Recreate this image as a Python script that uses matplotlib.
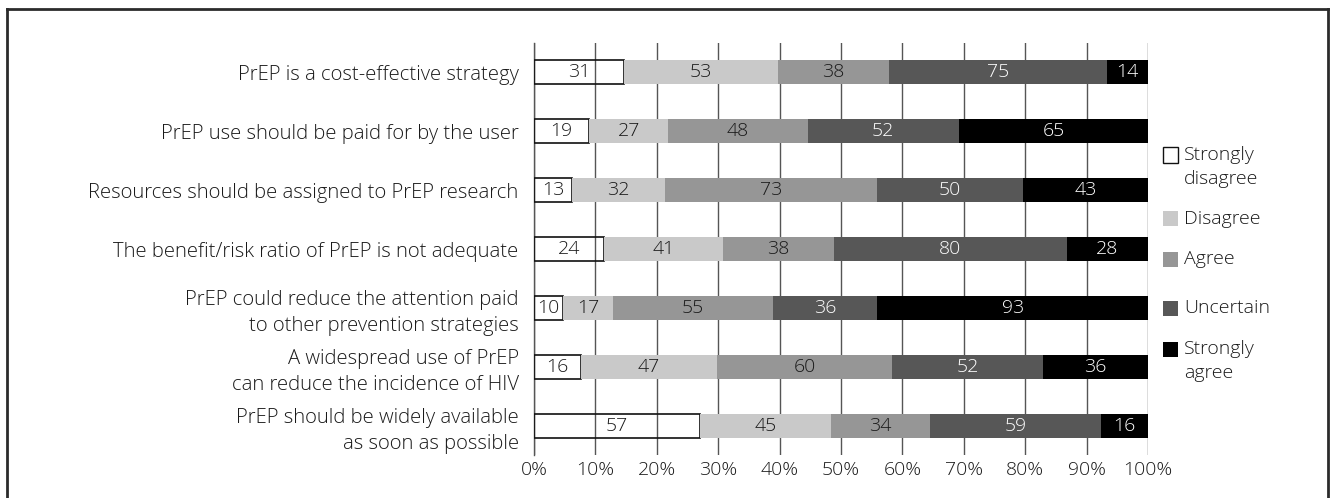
import matplotlib.pyplot as plt
import matplotlib.patches as patches
from matplotlib.lines import Line2D
import numpy as np

plt.rcParams['font.family'] = ['Open Sans', 'DejaVu Sans']
plt.rcParams['font.weight'] = 'light'

# Data
statements = [
    "PrEP is a cost-effective strategy",
    "PrEP use should be paid for by the user",
    "Resources should be assigned to PrEP research",
    "The benefit/risk ratio of PrEP is not adequate",
    "PrEP could reduce the attention paid\nto other prevention strategies",
    "A widespread use of PrEP\ncan reduce the incidence of HIV",
    "PrEP should be widely available\nas soon as possible",
]
series = ["Strongly\ndisagree", "Disagree", "Agree", "Uncertain", "Strongly\nagree"]
strongly_disagree = [31, 19, 13, 24, 10, 16, 57]
disagree = [53, 27, 32, 41, 17, 47, 45]
agree = [38, 48, 73, 38, 55, 60, 34]
uncertain = [75, 52, 50, 80, 36, 52, 59]
strongly_agree = [14, 65, 43, 28, 93, 36, 16]
tick_labels = ["0%", "10%", "20%", "30%", "40%", "50%", "60%", "70%", "80%", "90%", "100%"]

colors = ['none', '#c9c9c9', '#969696', '#575757', '#000000']
legend_colors = ['white', '#c9c9c9', '#969696', '#575757', '#000000']
text_colors = ['#1a1a1a', '#1a1a1a', '#1a1a1a', 'white', 'white']

counts = np.array([strongly_disagree, disagree, agree, uncertain, strongly_agree], dtype=float)
shares = counts / counts.sum(axis=0) * 100

FS = 14
W, H = 1334, 498
fig = plt.figure(figsize=(W / 100, H / 100), dpi=100)
ax = fig.add_axes([534 / W, 1 - 455 / H, (1148 - 534) / W, (455 - 43) / H])

y = np.arange(len(statements))
left = np.zeros(len(statements))
for k in range(len(series)):
    if k == 0:
        ax.barh(y, shares[k], left=left, height=0.41, facecolor='none',
                edgecolor='#111111', linewidth=1.2, zorder=3)
    else:
        ax.barh(y, shares[k], left=left, height=0.41, color=colors[k],
                edgecolor='none', zorder=3)
    for i in range(len(statements)):
        ax.text(left[i] + shares[k][i] / 2, y[i], f"{int(counts[k][i])}",
                ha='center', va='center', fontsize=FS, color=text_colors[k], zorder=4)
    left += shares[k]

ax.set_xlim(0, 100)
ax.set_ylim(len(statements) - 0.5, -0.5)
ax.set_xticks(np.arange(0, 101, 10))
ax.set_xticklabels(tick_labels, fontsize=FS)
ax.set_yticks(y)
ax.set_yticklabels(statements, fontsize=14.6, linespacing=1.4)
ax.tick_params(axis='both', length=0, colors='#1a1a1a')
ax.tick_params(axis='y', pad=11)
ax.tick_params(axis='x', pad=4)
for lbl in ax.get_yticklabels():
    lbl.set_multialignment('right')
ax.grid(axis='x', color='#555555', linewidth=1.0, zorder=0)
ax.set_axisbelow(True)
for s in ['top', 'right', 'bottom']:
    ax.spines[s].set_visible(False)
ax.spines['left'].set_color('#555555')
ax.spines['left'].set_linewidth(1.0)

# Legend (manual, square aligned with first line)
leg_y = [155, 219, 259, 308, 349]
for name, c, ly in zip(series, legend_colors, leg_y):
    fig.patches.append(patches.Rectangle((1163 / W, 1 - (ly + 7.5) / H), 15 / W, 15 / H,
                                         transform=fig.transFigure, facecolor=c,
                                         edgecolor='#111111' if c == 'white' else 'none',
                                         linewidth=1.0))
    fig.text(1184 / W, 1 - (ly - 9) / H, name, ha='left', va='top', fontsize=FS,
             color='#1a1a1a', linespacing=1.45)

# Outer frame
frame_kw = dict(transform=fig.transFigure, color='#2b2b2b', linewidth=2.0)
fig.lines.append(Line2D([7 / W, 7 / W], [0, 1 - 9 / H], **frame_kw))
fig.lines.append(Line2D([7 / W, 1328 / W], [1 - 9 / H, 1 - 9 / H], **frame_kw))
fig.lines.append(Line2D([1328 / W, 1328 / W], [0, 1 - 9 / H], **frame_kw))

fig.savefig("out.png", dpi=100)
